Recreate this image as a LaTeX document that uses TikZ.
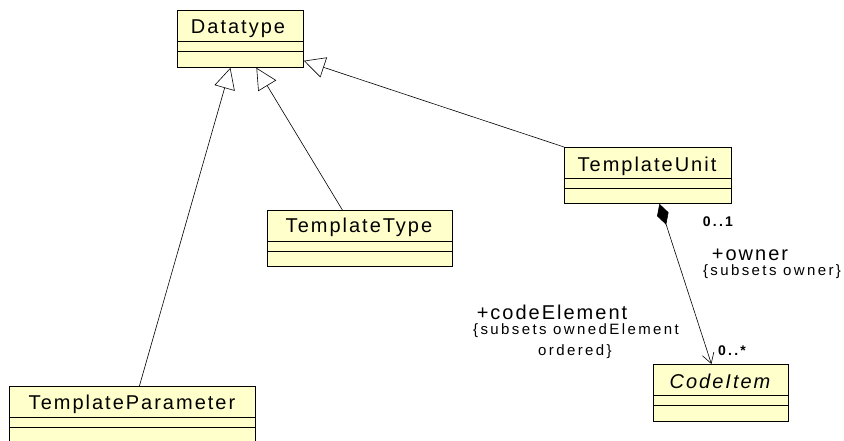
\documentclass[tikz,border=0pt]{standalone}
\usepackage{fontspec}
\setmainfont{Liberation Sans}
\newfontfamily\umlfont[LetterSpace=10]{Liberation Sans}
\newfontfamily\umlsmallfont[LetterSpace=16]{Liberation Sans}
\usetikzlibrary{arrows.meta}
\definecolor{umlfill}{RGB}{255,255,204}

\tikzset{
  classbox/.style={rectangle,draw=black,fill=umlfill,anchor=north west,inner sep=0pt,line width=0.8pt},
  classline/.style={draw=black,line width=0.6pt},
  classname/.style={anchor=base,inner sep=0pt,font=\umlfont\fontsize{20}{22}\selectfont},
  rolename/.style={anchor=base,inner sep=0pt,font=\umlfont\fontsize{20}{22}\selectfont},
  constraint/.style={anchor=base,inner sep=0pt,font=\umlsmallfont\fontsize{15}{17}\selectfont},
  multiplicity/.style={anchor=base,inner sep=0pt,font=\umlsmallfont\bfseries\fontsize{14}{16}\selectfont},
  inherit/.style={line width=0.6pt,-{Triangle[open,length=21pt,width=21pt]}},
  compose/.style={line width=0.6pt,{Diamond[length=22pt,width=12pt]}-{Straight Barb[length=10pt,width=12pt]}}
}

\begin{document}
\begin{tikzpicture}[x=1pt,y=-1pt]

      \useasboundingbox (0,0) rectangle (844,441);

      % classes
      \node[classbox,minimum width=126pt,minimum height=57pt] (datatype) at (177,10){};
      \node[classbox,minimum width=185pt,minimum height=56pt] (ttype) at (267,210){};
      \node[classbox,minimum width=167pt,minimum height=56pt] (tunit) at (564,147){};
      \node[classbox,minimum width=246pt,minimum height=56pt] (tparam) at (9,386){};
      \node[classbox,minimum width=135pt,minimum height=57pt] (codeitem) at (653,364){};

      \foreach \c in {datatype,ttype,tunit,tparam,codeitem}{
        \draw[classline] ([yshift=-31pt]\c.north west) -- ([yshift=-31pt]\c.north east);
        \draw[classline] ([yshift=-41.5pt]\c.north west) -- ([yshift=-41.5pt]\c.north east);
      }

      \node[classname] (datatypename) at (238,34){Datatype};
      \node[classname] (ttypename) at (359,233){TemplateType};
      \node[classname] (tunitname) at (647,172){TemplateUnit};
      \node[classname] (tparamname) at (132,409){TemplateParameter};
      \node[classname] (codeitemname) at (720,388){\itshape CodeItem};

      % generalizations
      \draw[inherit] ([xshift=7pt]tparam.north) -- ([xshift=-10pt]datatype.south);
      \draw[inherit] ([xshift=-17.5pt]ttype.north) -- ([xshift=16pt]datatype.south);
      \draw[inherit] (tunit.north west) -- ([yshift=7pt]datatype.south east);

      % composition
      \draw[compose] ([xshift=11.5pt]tunit.south) -- ([xshift=-9.5pt]codeitem.north);

      \node[multiplicity] (ownermult) at (718,226){0..1};
      \node[rolename] (owner) at (750,260){+owner};
      \node[constraint] (ownerset) at (772,275){\{subsets owner\}};
      \node[rolename] (codeelem) at (552,319){+codeElement};
      \node[constraint] (codeelemset) at (576,334){\{subsets ownedElement};
      \node[constraint] (codeelemord) at (575,355){ordered\}};
      \node[multiplicity] (codeelemmult) at (732,355){0..*};

    \end{tikzpicture}
\end{document}
